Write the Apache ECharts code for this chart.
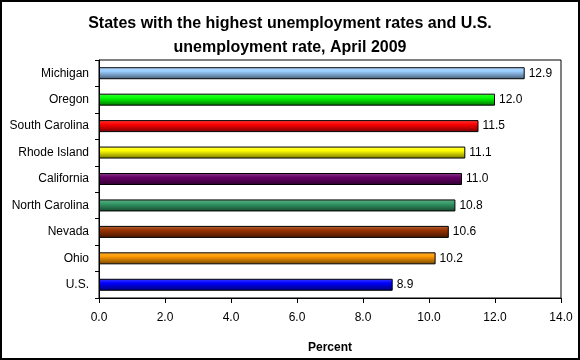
<!DOCTYPE html>
<html><head><meta charset="utf-8">
<script src="https://cdn.jsdelivr.net/npm/echarts@6/dist/echarts.min.js"></script>
<style>html,body{margin:0;padding:0;background:#fff}#c{width:580px;height:360px}</style>
</head><body><div id="c"></div>
<script>
const categories = ["Michigan","Oregon","South Carolina","Rhode Island","California","North Carolina","Nevada","Ohio","U.S."];
const values = [12.9, 12.0, 11.5, 11.1, 11.0, 10.8, 10.6, 10.2, 8.9];
const barColors = ["#99ccff","#00ff00","#ff0000","#ffff00","#660066","#339966","#993300","#ff9900","#0000ff"];
const xTicks = [0, 2, 4, 6, 8, 10, 12, 14];

function hexToRgb(h){return [parseInt(h.substr(1,2),16),parseInt(h.substr(3,2),16),parseInt(h.substr(5,2),16)];}
function mix(h, t, f){const c=hexToRgb(h);return 'rgb('+c.map((v,i)=>Math.round(v+(t[i]-v)*f)).join(',')+')';}
function grad(h){
  return new echarts.graphic.LinearGradient(0,0,0,1,[
    {offset:0, color:mix(h,[255,255,255],0.25)},
    {offset:0.35, color:h},
    {offset:1, color:mix(h,[0,0,0],0.55)}
  ]);
}
const font = "Liberation Sans, Arial, sans-serif";
const chart = echarts.init(document.getElementById('c'), null, {renderer:'canvas'});
chart.setOption({
  animation:false,
  title:{
    text:"States with the highest unemployment rates and U.S.\nunemployment rate, April 2009",
    left:'center', top:7,
    textStyle:{fontFamily:font, fontSize:16, fontWeight:'bold', color:'#000', lineHeight:24}
  },
  graphic:[{type:'rect', shape:{x:1,y:1,width:578,height:358}, style:{fill:'none', stroke:'#000', lineWidth:2}, silent:true}],
  grid:{left:99, right:19, top:60, bottom:62, show:true, borderColor:'#000', borderWidth:1, containLabel:false},
  xAxis:{
    type:'value', min:xTicks[0], max:xTicks[xTicks.length-1], interval:xTicks[1]-xTicks[0],
    name:'Percent', nameLocation:'middle', nameGap:44,
    nameTextStyle:{fontFamily:font, fontSize:12, fontWeight:'bold', color:'#000'},
    axisLine:{show:true, lineStyle:{color:'#000'}},
    axisTick:{show:true, length:5, lineStyle:{color:'#000'}},
    axisLabel:{fontFamily:font, fontSize:12, color:'#000', margin:14, formatter:v=>v.toFixed(1)},
    splitLine:{show:false}
  },
  yAxis:{
    type:'category', data:categories, inverse:true,
    axisLine:{show:true, lineStyle:{color:'#000'}},
    axisTick:{show:true, length:4, lineStyle:{color:'#000'}},
    axisLabel:{fontFamily:font, fontSize:12, color:'#000', margin:10}
  },
  series:[{
    type:'bar', barWidth:12,
    data: values.map((v,i)=>({value:v, itemStyle:{color:grad(barColors[i]), borderColor:'#000', borderWidth:1}})),
    label:{show:true, position:'right', distance:4, fontFamily:font, fontSize:12, color:'#000', formatter:p=>p.value.toFixed(1)}
  }]
});
</script></body></html>
